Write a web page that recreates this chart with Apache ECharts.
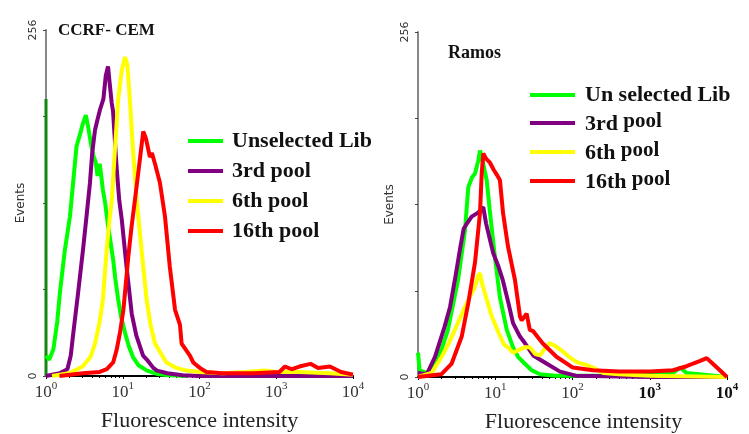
<!DOCTYPE html>
<html>
<head>
<meta charset="utf-8">
<script src="https://cdn.jsdelivr.net/npm/echarts@6/dist/echarts.min.js"></script>
<style>
html,body{margin:0;padding:0;background:#fff;}
#chart{width:749px;height:434px;}
</style>
</head>
<body>
<div id="chart"></div>
<script>
// ---------- data (fluorescence intensity, events) ----------
const panelTitles = ['CCRF- CEM', 'Ramos'];
const leftNames = ['Unselected Lib', '3rd pool', '6th pool', '16th pool'];
const rightNames = ['Un selected Lib', '3rd pool', '6th pool', '16th pool'];
const xTickExps = ['0', '1', '2', '3', '4'];
const yLabelValues = [0, 256];

// CCRF-CEM panel
const cemEdge = [[1, 0], [1, 205]];
const cemUnselected = [[1,15],[1.1,12],[1.25,20],[1.4,40],[1.52,62],[1.75,92],[2.05,118],[2.3,148],[2.5,170],[2.75,178],[3.0,186],[3.3,193],[3.55,184],[3.9,170],[4.15,163],[4.45,158],[4.7,148],[5.0,157],[5.2,150],[5.5,138],[5.9,128],[6.4,112],[6.9,100],[7.5,86],[8.0,72],[8.7,57],[9.5,44],[10.7,32],[12,22],[13.6,14],[16,8],[20.7,4],[28,1.5],[40,0.5],[70,0]];
const cemPool3 = [[1,0],[1.5,2],[1.9,5],[2.1,15],[2.25,30],[2.6,60],[3.03,93],[3.4,120],[3.74,143],[4.0,165],[4.35,182],[4.7,190],[5.05,197],[5.6,205],[6.0,222],[6.43,229],[6.8,215],[7.18,202],[7.47,196],[8.3,155],[9.0,130],[9.7,116],[11.2,81],[13.1,46],[15,30],[18.4,15],[20.7,12],[25,6],[28,4],[38,2],[60,0.5],[100,0],[10000,0]];
const cemPool6 = [[1.2,0],[2,2],[3,7],[3.8,14],[4.35,24],[5,40],[5.5,56],[6.17,93],[6.7,115],[7.2,130],[7.9,167],[8.7,204],[9.7,226],[10.7,236],[11.5,230],[12.4,204],[13.6,167],[15.2,130],[17.6,93],[20.5,56],[23,38],[26.3,24],[37,10],[50,6],[68,4],[100,3],[200,2],[400,3],[700,4],[1000,3],[2000,3],[5000,2],[10000,1]];
const cemPool16 = [[1.5,0],[3,2],[5,3],[6.2,5],[7.5,10],[8.3,19],[9.2,32],[10.2,49],[11.8,88],[13,110],[14.4,130],[16.7,160],[18.5,181],[20,176],[22.6,162],[24,165],[26.3,157],[30.5,143],[35.5,118],[41,81],[48,49],[55.6,38],[58.5,24],[75,15],[83,10],[101,6],[123,3],[200,2],[500,2],[1100,3],[1300,7],[1600,5],[2000,7],[2800,9],[3500,6],[5000,7],[7000,3],[10000,1]];

// Ramos panel
const ramUnselected = [[1,18],[1.05,5],[1.3,3],[1.66,10],[2.0,20],[2.44,35],[3.3,72],[4.06,109],[4.48,141],[5.0,148],[5.47,151],[6.0,160],[6.35,168],[7.0,158],[7.75,146],[8.55,122],[9.9,89],[11.5,59],[14.1,35],[17,22],[19.7,15],[24,10],[29.6,5],[38,2],[60,1],[100,1],[300,1],[1000,2],[2000,3],[2470,7],[3000,3],[10000,0]];
const ramPool3 = [[1,3],[1.3,2],[1.66,15],[2.2,37],[2.6,52],[3.0,72],[3.5,95],[3.9,110],[4.2,113],[4.95,119],[6.0,122],[7.0,126],[7.6,114],[9.4,92],[11,82],[12.5,72],[14.8,55],[17,40],[20.9,30],[24.3,25],[31,16],[46,10],[69,4],[110,1],[1000,0],[10000,0]];
const ramPool6 = [[1,0],[1.5,3],[2.03,15],[2.5,25],[3.0,35],[4.06,52],[5.47,67],[6.0,75],[6.35,77],[6.7,70],[7.37,62],[9.0,45],[11,33],[13,24],[14.6,22],[17,18],[20,20],[24,22],[28,22],[33,17],[38,16],[45,22],[51,25],[60,23],[75,19],[90,15],[114,11],[150,9],[184,7],[250,3],[400,2],[1000,1],[10000,0]];
const ramPool16 = [[1,0],[2,2],[2.73,10],[3.68,30],[4.48,55],[5.47,85],[6.35,122],[6.68,151],[7.0,166],[7.6,162],[8.55,159],[9.5,154],[10.5,150],[11.5,146],[12.6,122],[14.6,97],[18,72],[20.9,45],[22,42],[25.5,47],[28,35],[31,34],[41,25],[62,15],[101,7],[184,5],[400,4],[1000,4],[2000,5],[3000,8],[3640,10],[4500,12],[5460,14],[6500,10],[7400,7],[10000,0]];

const colors = ['#00ff00', '#800080', '#ffff00', '#ff0000'];

// ---------- chart ----------
const serif = '"Liberation Serif", "DejaVu Serif", serif';
const sans = '"DejaVu Sans", "Liberation Sans", sans-serif';

function xAxisFor(gridIndex, boldFrom) {
  return {
    type: 'log', logBase: 10, min: 1, max: 10000, gridIndex: gridIndex,
    axisLine: { lineStyle: { color: '#000', width: 2 } },
    axisTick: { show: true, length: 3, lineStyle: { color: '#000' } },
    minorTick: { show: true, splitNumber: 9, length: 2, lineStyle: { color: '#000' } },
    splitLine: { show: false },
    axisLabel: {
      margin: 5,
      formatter: function (v) {
        const e = String(Math.round(Math.log10(v)));
        const idx = xTickExps.indexOf(e);
        const bold = idx >= boldFrom;
        return bold ? '{bb|10}{bs|' + e + '}' : '{b|10}{s|' + e + '}';
      },
      rich: {
        b: { fontFamily: serif, fontSize: 17, color: '#333', lineHeight: 20, verticalAlign: 'bottom' },
        s: { fontFamily: serif, fontSize: 11, color: '#333', lineHeight: 20, verticalAlign: 'top' },
        bb: { fontFamily: serif, fontSize: 17, fontWeight: 'bold', color: '#111', lineHeight: 20, verticalAlign: 'bottom' },
        bs: { fontFamily: serif, fontSize: 11, fontWeight: 'bold', color: '#111', lineHeight: 20, verticalAlign: 'top' }
      }
    },
    name: 'Fluorescence intensity',
    nameLocation: 'middle',
    nameGap: 34,
    nameTextStyle: { fontFamily: serif, fontSize: 22, color: '#222', padding: gridIndex === 1 ? [0, 0, 0, 22] : 0 }
  };
}

function yAxisFor(gridIndex, gap) {
  return {
    type: 'value', min: 0, max: 256, interval: 64, gridIndex: gridIndex,
    axisLine: { show: true, lineStyle: { color: '#888', width: 2 } },
    axisTick: { show: true, length: 3, lineStyle: { color: '#444' } },
    splitLine: { show: false },
    axisLabel: {
      rotate: 90, margin: 7, fontFamily: sans, fontSize: 11, color: '#333',
      formatter: function (v) { return yLabelValues.indexOf(v) >= 0 ? String(v) : ''; }
    },
    name: 'Events',
    nameLocation: 'middle',
    nameGap: gap,
    nameTextStyle: { fontFamily: sans, fontSize: 12, color: '#333' }
  };
}

function lineSeries(name, data, color, idx, width) {
  return {
    name: name, type: 'line', data: data, xAxisIndex: idx, yAxisIndex: idx,
    showSymbol: false, smooth: false, animation: false,
    lineStyle: { color: color, width: width || 4 },
    itemStyle: { color: color }
  };
}

const leftData = [cemUnselected, cemPool3, cemPool6, cemPool16];
const rightData = [ramUnselected, ramPool3, ramPool6, ramPool16];
const series = [lineSeries('edge', cemEdge, '#118811', 0, 3)];
leftData.forEach((d, i) => series.push(lineSeries(leftNames[i], d, colors[i], 0)));
rightData.forEach((d, i) => series.push(lineSeries(rightNames[i], d, colors[i], 1)));

const legendText = { fontFamily: serif, fontSize: 22, fontWeight: 'bold', color: '#111', padding: [0, 0, 0, 4] };

function rightLegendFormatter(name) {
  const sp = name.indexOf(' pool');
  if (sp < 0) return '{u|' + name + '}';
  return '{n|' + name.slice(0, sp) + '}{p| pool}';
}

const option = {
  backgroundColor: '#fff',
  animation: false,
  title: [
    { text: panelTitles[0], left: 58, top: 22, padding: 0, textStyle: { fontFamily: serif, fontSize: 17, fontWeight: 'bold', color: '#111' } },
    { text: panelTitles[1], left: 448, top: 44, padding: 0, textStyle: { fontFamily: serif, fontSize: 18, fontWeight: 'bold', color: '#111' } }
  ],
  legend: [
    { data: leftNames, orient: 'vertical', left: 188, top: 130, padding: 0, itemWidth: 35, itemHeight: 4, itemGap: 8,
      icon: 'rect', textStyle: legendText, selectedMode: false },
    { data: rightNames, orient: 'vertical', left: 530, top: 84, padding: 0, itemWidth: 45, itemHeight: 4, itemGap: 5,
      icon: 'rect', selectedMode: false, formatter: rightLegendFormatter,
      textStyle: {
        fontFamily: serif, fontSize: 22, fontWeight: 'bold', color: '#111', padding: [0, 0, 0, 5],
        rich: {
          u: { fontFamily: serif, fontSize: 22, fontWeight: 'bold', color: '#111', lineHeight: 24 },
          n: { fontFamily: serif, fontSize: 22, fontWeight: 'bold', color: '#111', lineHeight: 24, verticalAlign: 'bottom' },
          p: { fontFamily: serif, fontSize: 21, fontWeight: 'bold', color: '#111', lineHeight: 14, verticalAlign: 'top' }
        }
      } }
  ],
  grid: [
    { left: 46, top: 30, width: 307, height: 346, outerBoundsMode: 'none', containLabel: false },
    { left: 418, top: 32, width: 309, height: 345, outerBoundsMode: 'none', containLabel: false }
  ],
  xAxis: [xAxisFor(0, 99), xAxisFor(1, 3)],
  yAxis: [yAxisFor(0, 19), yAxisFor(1, 22)],
  series: series
};

const chart = echarts.init(document.getElementById('chart'), null, { renderer: 'canvas' });
chart.setOption(option);
</script>
</body>
</html>
